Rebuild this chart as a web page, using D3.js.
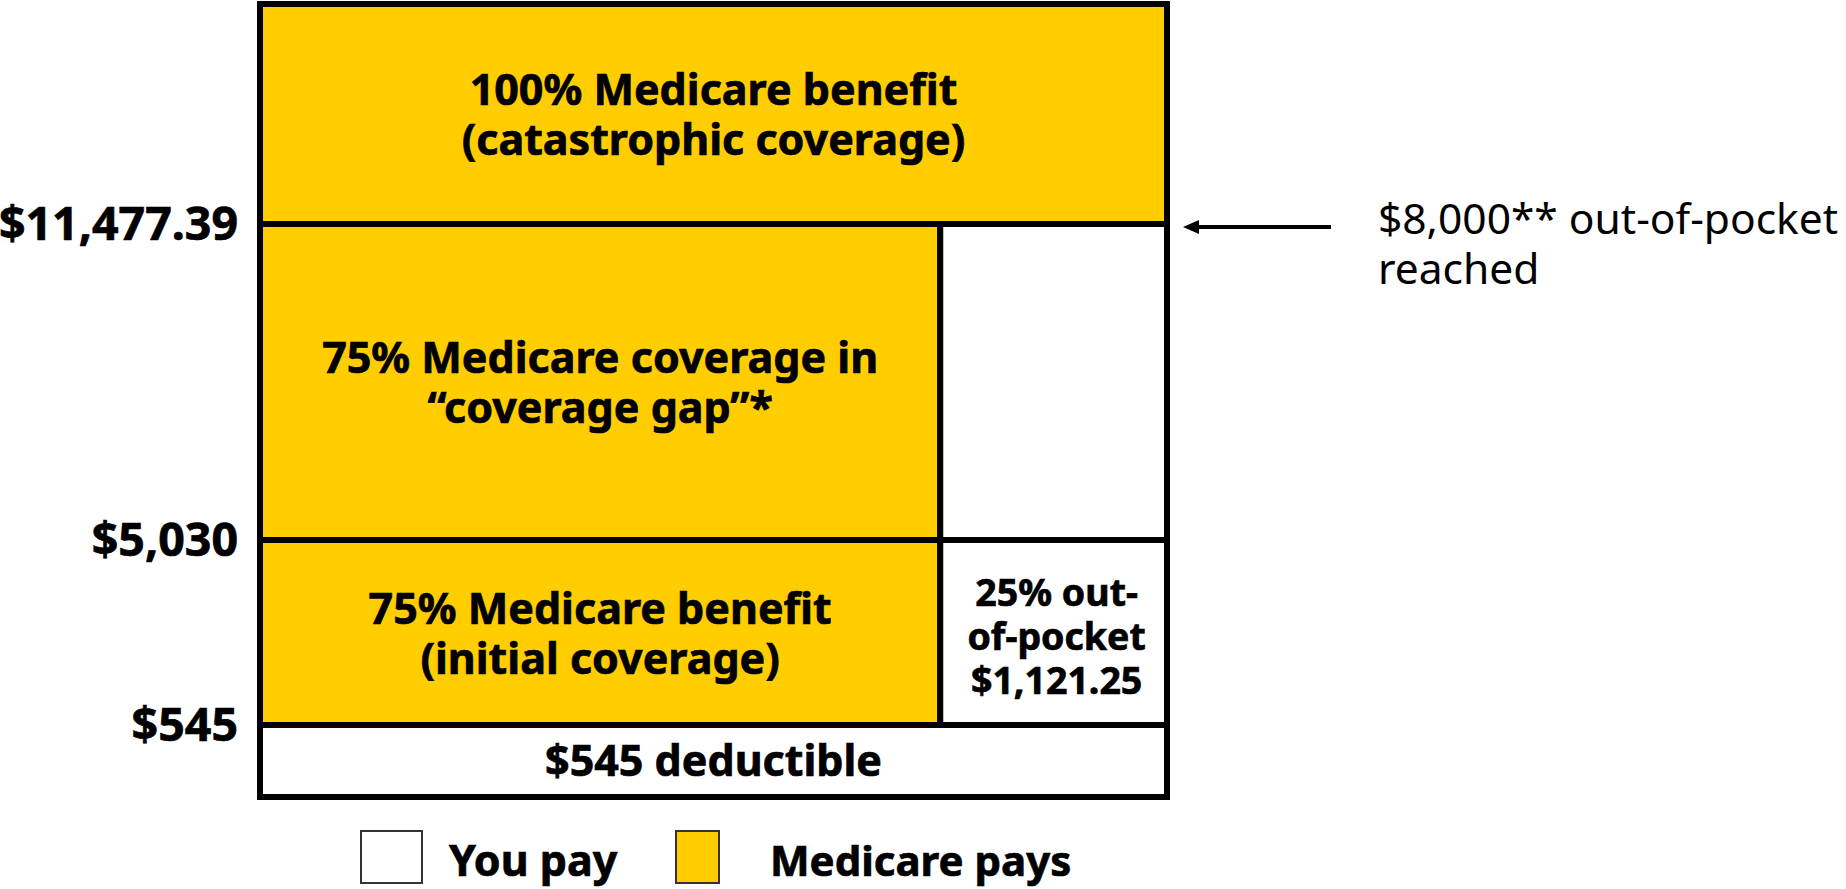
<!DOCTYPE html>
<html>
<head>
<meta charset="utf-8">
<script src="https://cdn.jsdelivr.net/npm/d3@7"></script>
<style>
  html, body { margin: 0; padding: 0; background: #fff; }
  svg { display: block; }
</style>
</head>
<body>
<svg id="chart" width="1846" height="889"></svg>
<script>
// ---- data ----
const thresholds = [0, 545, 5030, 11477.39, 16000];      // cost levels bounding each tier (last = chart top)
const tickValues = [545, 5030, 11477.39];
const tickLabels = ["$545", "$5,030", "$11,477.39"];
const medicareShare = [0, 0.75, 0.75, 1];                 // share paid by Medicare in each tier
const medicareText = [
  [],
  ["75% Medicare benefit", "(initial coverage)"],
  ["75% Medicare coverage in", "\u201Ccoverage gap\u201D*"],
  ["100% Medicare benefit", "(catastrophic coverage)"]
];
const youPayText = [
  ["$545 deductible"],
  ["25% out-", "of-pocket", "$1,121.25"],
  [],
  []
];
const annotationValue = 11477.39;
const annotationText = ["$8,000** out-of-pocket", "reached"];
const legendLabels = ["You pay", "Medicare pays"];

// ---- layout ----
const YELLOW = "#FFCD00";
const BOLD = "'Noto Sans', 'Open Sans', sans-serif";
const svg = d3.select("#chart");

const y = d3.scaleLinear().domain(thresholds).range([797, 725, 540, 224, 4]);
const x = d3.scaleLinear().domain([0, 1]).range([260, 1167]);

const tiers = medicareShare.map((s, i) => ({
  i, share: s, from: thresholds[i], to: thresholds[i + 1],
  mText: medicareText[i], yText: youPayText[i]
}));

const g = svg.append("g");

// cells
tiers.forEach(t => {
  const y0 = y(t.to), y1 = y(t.from);
  if (t.share > 0) {
    g.append("rect")
      .attr("x", x(0)).attr("y", y0)
      .attr("width", x(t.share) - x(0)).attr("height", y1 - y0)
      .attr("fill", YELLOW).attr("stroke", "#000").attr("stroke-width", 6);
  }
  if (t.share < 1) {
    g.append("rect")
      .attr("x", x(t.share)).attr("y", y0)
      .attr("width", x(1) - x(t.share)).attr("height", y1 - y0)
      .attr("fill", "#fff").attr("stroke", "#000").attr("stroke-width", 6);
  }
});

// outer frame
g.append("rect")
  .attr("x", x(0)).attr("y", y(thresholds[thresholds.length - 1]))
  .attr("width", x(1) - x(0)).attr("height", y(0) - y(thresholds[thresholds.length - 1]))
  .attr("fill", "none").attr("stroke", "#000").attr("stroke-width", 6)
  .attr("stroke-linejoin", "round");

function boldText(sel, size) {
  return sel.attr("font-family", BOLD).attr("font-weight", 700)
    .attr("font-size", size).attr("fill", "#000")
    .attr("stroke", "#000").attr("stroke-width", 0.7);
}

function multiline(lines, cx, cy, size, lh) {
  const n = lines.length, cap = size * 0.714;
  const t = boldText(g.append("text"), size).attr("text-anchor", "middle");
  lines.forEach((s, k) => {
    t.append("tspan")
      .attr("x", cx)
      .attr("y", cy + (k - (n - 1) / 2) * lh + cap / 2)
      .text(s);
  });
}

tiers.forEach(t => {
  const cy = (y(t.to) + y(t.from)) / 2;
  if (t.mText.length) {
    multiline(t.mText, (x(0) + x(t.share)) / 2, cy + 1, 43, 50);
  }
  if (t.yText.length) {
    if (t.yText.length > 1) multiline(t.yText, (x(t.share) + x(1)) / 2 + 3, cy + 4, 37.5, 44);
    else multiline(t.yText, (x(t.share) + x(1)) / 2, cy, 43, 50);
  }
});

// y axis labels
const axis = d3.axisLeft(y).tickValues(tickValues).tickFormat((d, i) => tickLabels[i]).tickSize(0).tickPadding(0);
const ag = svg.append("g").attr("transform", "translate(238,0)").call(axis);
ag.select(".domain").remove();
boldText(ag.selectAll("text"), 46.5).attr("dy", "0.34em");

// annotation arrow
const ay = y(annotationValue) + 3;
svg.append("line")
  .attr("x1", 1331).attr("x2", 1192).attr("y1", ay).attr("y2", ay)
  .attr("stroke", "#000").attr("stroke-width", 4);
svg.append("path")
  .attr("d", `M1183,${ay} L1199,${ay - 7} L1199,${ay + 7} Z`)
  .attr("fill", "#000");
const at = svg.append("text")
  .attr("font-family", "'Noto Sans', sans-serif").attr("font-weight", 400)
  .attr("font-size", 42.5).attr("fill", "#000");
annotationText.forEach((s, k) => {
  at.append("tspan").attr("x", 1378).attr("y", ay + 7 + k * 50).text(s);
});

// legend
const legend = [
  { label: legendLabels[0], fill: "#fff", bx: 361, bw: 61, tx: 449, fs: 43 },
  { label: legendLabels[1], fill: YELLOW, bx: 676, bw: 43, tx: 770, fs: 42 }
];
legend.forEach(d => {
  svg.append("rect")
    .attr("x", d.bx).attr("y", 831).attr("width", d.bw).attr("height", 52)
    .attr("fill", d.fill).attr("stroke", "#333").attr("stroke-width", 2);
  boldText(svg.append("text"), d.fs)
    .attr("x", d.tx).attr("y", 876)
    .text(d.label);
});
</script>
</body>
</html>
